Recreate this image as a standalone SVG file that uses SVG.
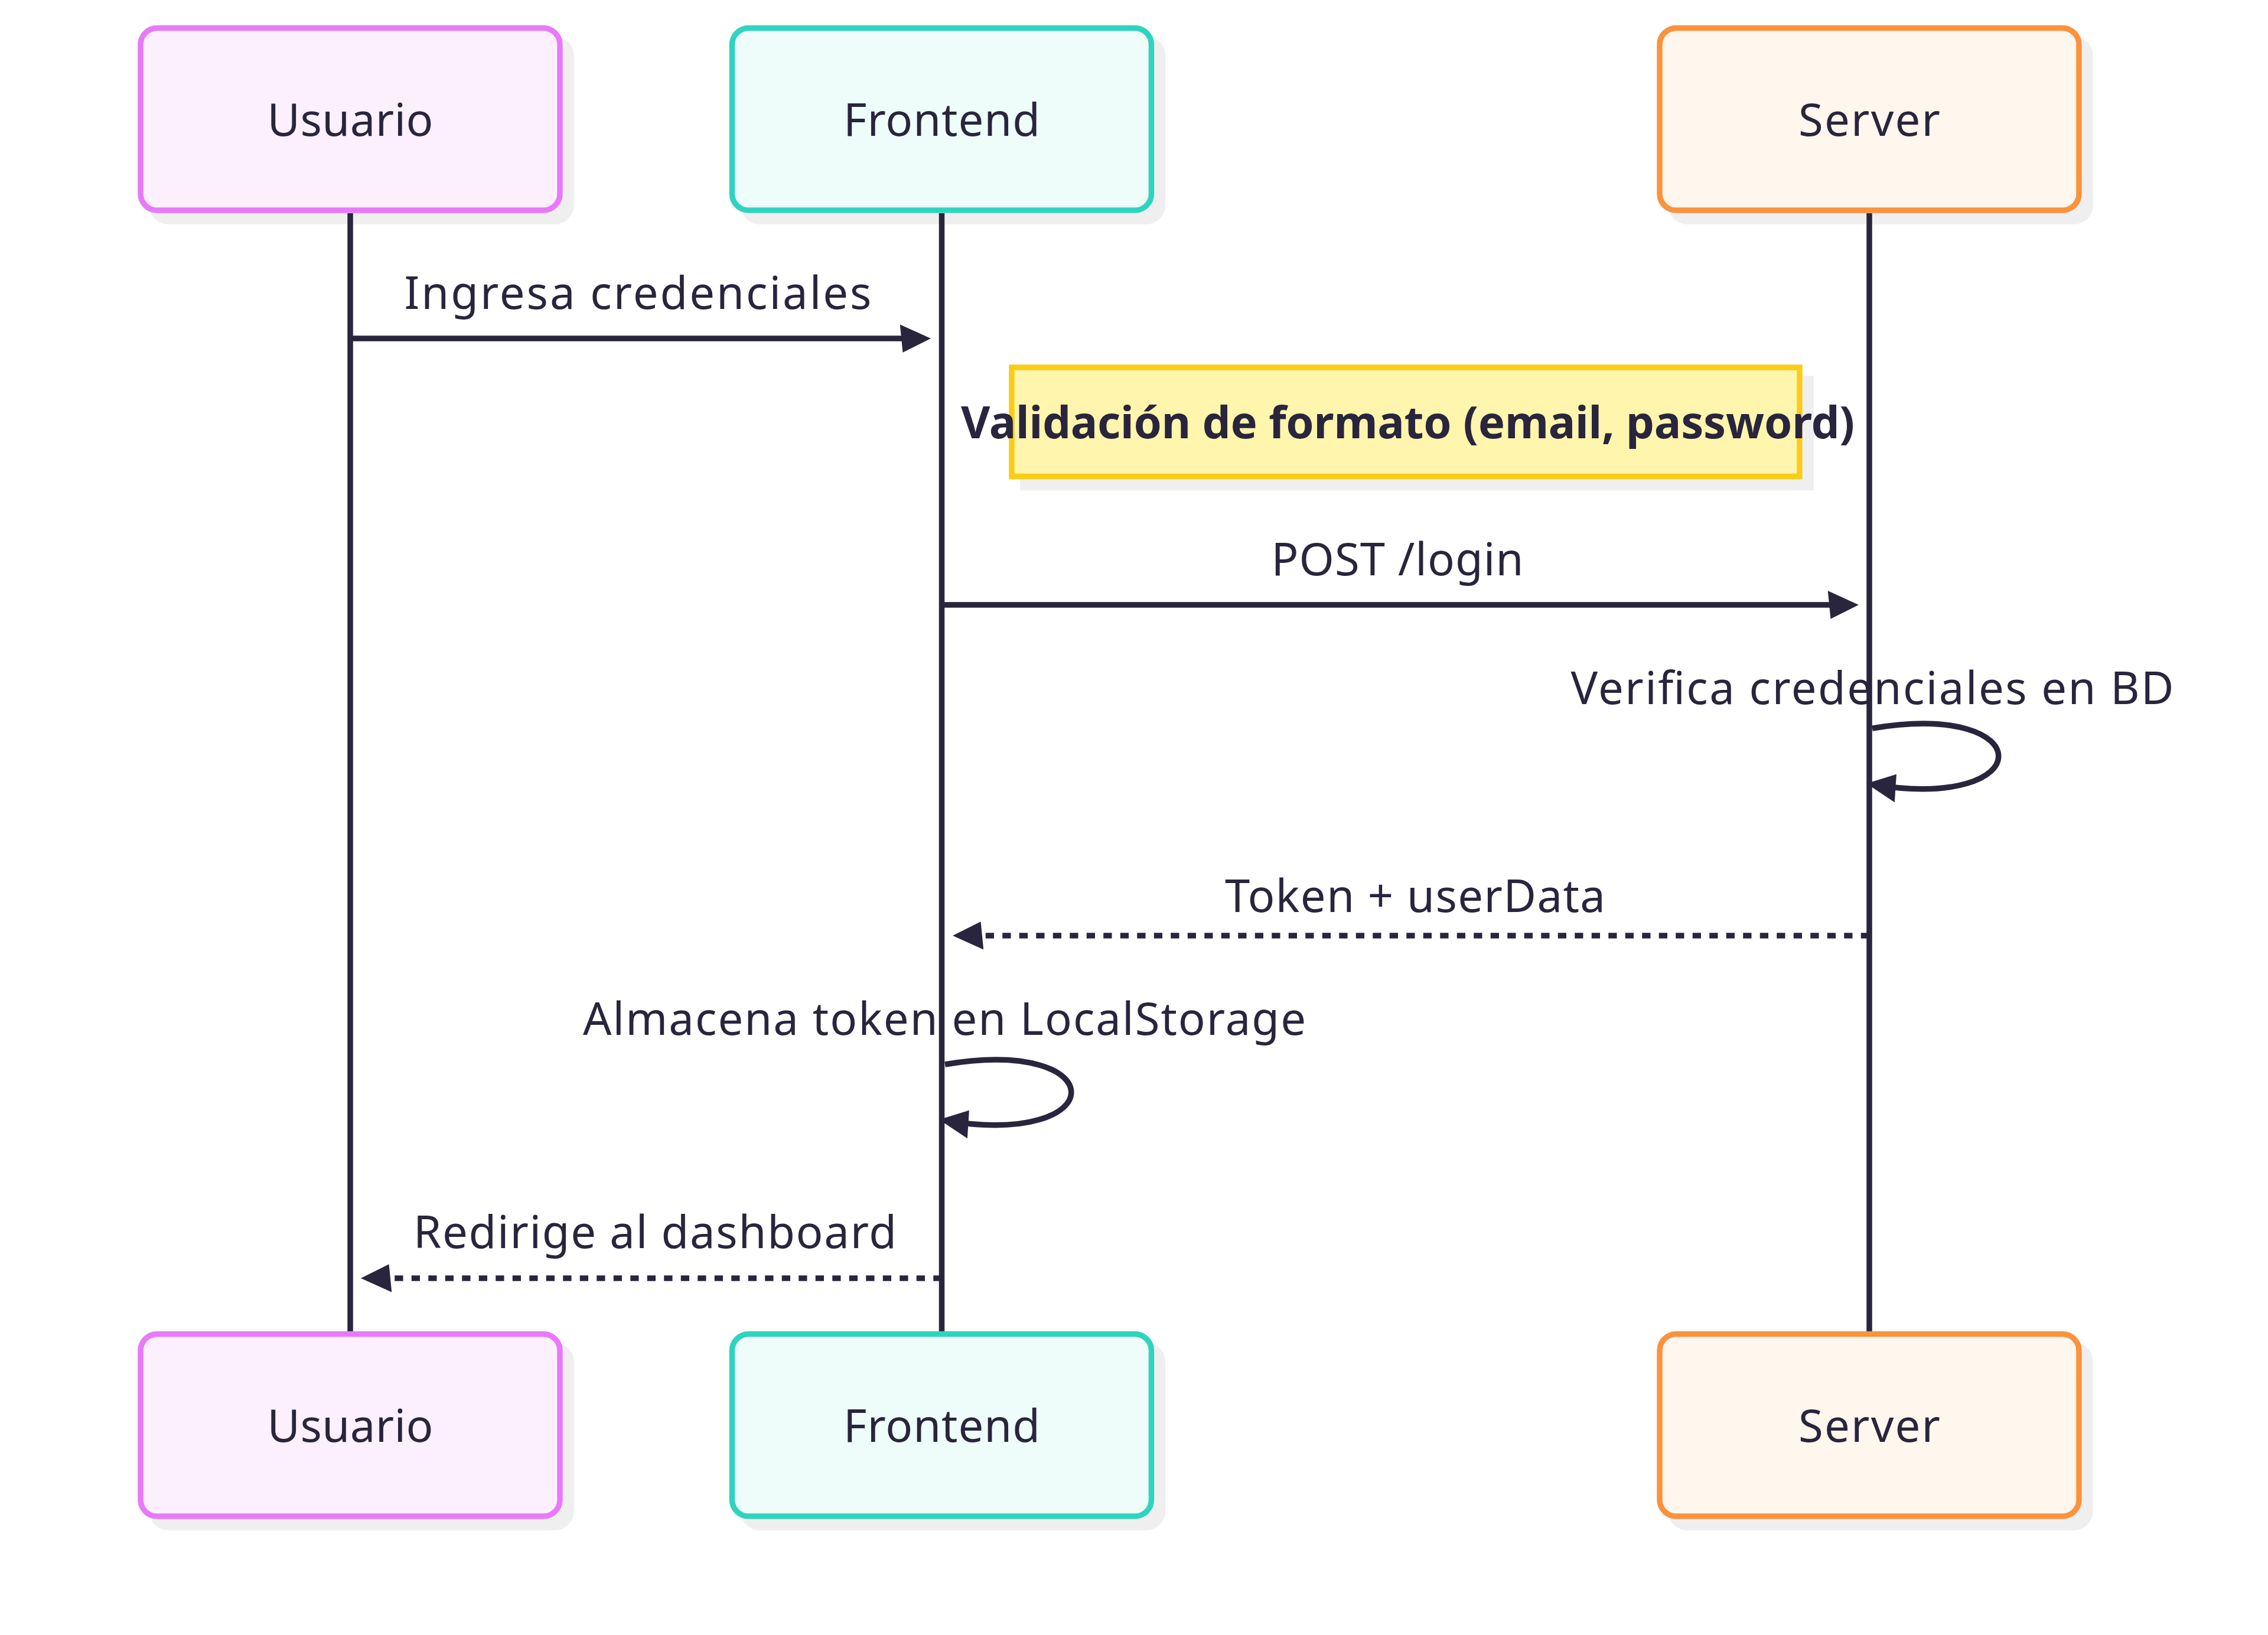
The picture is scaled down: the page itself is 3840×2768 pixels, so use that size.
<svg xmlns="http://www.w3.org/2000/svg" width="3840" height="2768" viewBox="0 0 3840 2768">
<style>
  .txt { font-family: "Noto Sans", "Open Sans", "DejaVu Sans", sans-serif; font-size: 76px; fill: #29253d; text-anchor: middle; }
  .bold { font-weight: 700; }
  .life { stroke: #29253d; stroke-width: 9.5; fill: none; }
  .msg { stroke: #29253d; stroke-width: 9.5; fill: none; marker-end: url(#arrow); }
  .dash { stroke-dasharray: 14.25 14.25; }
  .box { stroke-width: 9.5; filter: url(#shadow); }
  .usuario { fill: #fdf0fe; stroke: #e879f9; }
  .frontend { fill: #effdfa; stroke: #2dd4bf; }
  .server { fill: #fff6ed; stroke: #fb923c; }
  .note { fill: #fff5ad; stroke: #facc15; stroke-width: 9.5; filter: url(#shadow); }
</style>
<defs>
  <filter id="shadow" x="-10%" y="-10%" width="130%" height="130%">
    <feDropShadow dx="19" dy="19" stdDeviation="0" flood-color="#efefef" flood-opacity="1"/>
  </filter>
  <marker id="arrow" viewBox="-1 0 11 10" refX="7.9" refY="5" markerWidth="52.25" markerHeight="47.5" markerUnits="userSpaceOnUse" orient="auto">
    <path d="M -1 0 L 10 5 L 0 10 z" fill="#29253d"/>
  </marker>
</defs>
<rect width="3840" height="2768" fill="#ffffff"/>

<g id="actor-usuario-top">
  <rect class="box usuario" x="238" y="47.5" width="710" height="308.5" rx="28"/>
  <text class="txt" x="593" y="230" textLength="281" lengthAdjust="spacing">Usuario</text>
</g>
<g id="actor-frontend-top">
  <rect class="box frontend" x="1239.5" y="47.5" width="710" height="308.5" rx="28"/>
  <text class="txt" x="1594.5" y="230" textLength="333" lengthAdjust="spacing">Frontend</text>
</g>
<g id="actor-server-top">
  <rect class="box server" x="2810" y="47.5" width="710" height="308.5" rx="28"/>
  <text class="txt" x="3165" y="230" textLength="240" lengthAdjust="spacing">Server</text>
</g>

<g id="lifelines">
  <line class="life" x1="593" y1="361" x2="593" y2="2258"/>
  <line class="life" x1="1594.5" y1="361" x2="1594.5" y2="2258"/>
  <line class="life" x1="3165" y1="361" x2="3165" y2="2258"/>
</g>

<g id="note-validacion">
  <rect class="note" x="1713" y="622" width="1334" height="184.5"/>
  <text class="txt bold" x="2383.5" y="742" textLength="1513" lengthAdjust="spacing">Validación de formato (email, password)</text>
</g>

<g id="connectors">
  <path class="msg" d="M 593 573 L 1566 573"/>
  <path class="msg" d="M 1594.5 1024 L 3137 1024"/>
  <path class="msg" d="M 3170 1233 C 3455 1185 3455 1375 3170 1328"/>
  <path class="msg dash" d="M 3165 1584 L 1623 1584"/>
  <path class="msg" d="M 1600 1802 C 1885 1754 1885 1944 1600 1897"/>
  <path class="msg dash" d="M 1594.5 2164 L 621 2164"/>
</g>

<g id="message-labels">
  <text class="txt" x="1080" y="523" textLength="791" lengthAdjust="spacing">Ingresa credenciales</text>
  <text class="txt" x="2366" y="974" textLength="427" lengthAdjust="spacing">POST /login</text>
  <text class="txt" x="3170" y="1192" textLength="1021" lengthAdjust="spacing">Verifica credenciales en BD</text>
  <text class="txt" x="2396" y="1544" textLength="644" lengthAdjust="spacing">Token + userData</text>
  <text class="txt" x="1599" y="1752" textLength="1224" lengthAdjust="spacing">Almacena token en LocalStorage</text>
  <text class="txt" x="1109" y="2113" textLength="818" lengthAdjust="spacing">Redirige al dashboard</text>
</g>

<g id="actor-usuario-bottom">
  <rect class="box usuario" x="238" y="2258.5" width="710" height="308.5" rx="28"/>
  <text class="txt" x="593" y="2441" textLength="281" lengthAdjust="spacing">Usuario</text>
</g>
<g id="actor-frontend-bottom">
  <rect class="box frontend" x="1239.5" y="2258.5" width="710" height="308.5" rx="28"/>
  <text class="txt" x="1594.5" y="2441" textLength="333" lengthAdjust="spacing">Frontend</text>
</g>
<g id="actor-server-bottom">
  <rect class="box server" x="2810" y="2258.5" width="710" height="308.5" rx="28"/>
  <text class="txt" x="3165" y="2441" textLength="240" lengthAdjust="spacing">Server</text>
</g>
</svg>
